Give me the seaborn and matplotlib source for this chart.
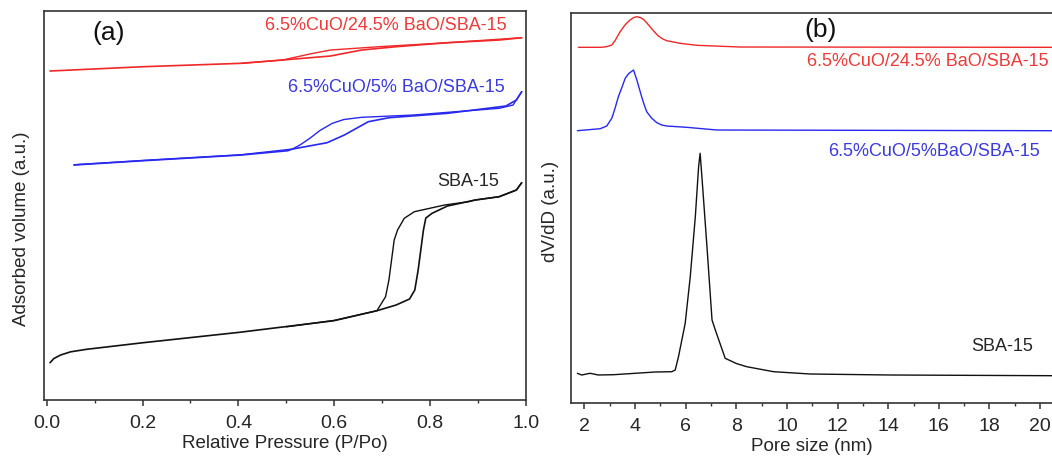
import numpy as np
import pandas as pd
import matplotlib
matplotlib.use("Agg")
import matplotlib.pyplot as plt
from matplotlib.ticker import MultipleLocator, FormatStrFormatter
import seaborn as sns

# ---------------- data: panel (a) N2 isotherms (arbitrary units) ----------------
a_x_sba_ads = [0.007, 0.015, 0.029, 0.050, 0.083, 0.201, 0.402, 0.599, 0.689, 0.729, 0.757,
               0.768, 0.775, 0.786, 0.791, 0.804, 0.836, 0.894, 0.944, 0.980, 0.991]
a_y_sba_ads = [37.3, 41.5, 45.0, 48.2, 50.7, 57.3, 67.7, 79.3, 89.3, 95.0, 101.0,
               110.0, 130.0, 170.0, 182.0, 186.7, 194.0, 200.0, 203.3, 210.0, 217.3]
a_x_sba_des = [0.991, 0.980, 0.944, 0.894, 0.880, 0.830, 0.767, 0.746, 0.732, 0.725,
               0.714, 0.707, 0.689, 0.600, 0.500]
a_y_sba_des = [217.3, 210.0, 203.3, 200.0, 198.3, 195.0, 188.3, 181.7, 170.0, 160.0,
               120.0, 103.3, 89.3, 79.6, 73.2]

a_x_cu5_ads = [0.057, 0.201, 0.406, 0.503, 0.513, 0.585, 0.621, 0.671, 0.714, 0.836,
               0.958, 0.980, 0.991]
a_y_cu5_ads = [235.0, 239.3, 245.0, 249.3, 251.0, 257.3, 265.0, 278.3, 282.3, 286.7,
               294.0, 300.0, 308.3]
a_x_cu5_des = [0.991, 0.973, 0.944, 0.765, 0.657, 0.620, 0.596, 0.570, 0.549, 0.530, 0.513,
               0.406, 0.201, 0.057]
a_y_cu5_des = [308.3, 295.0, 291.7, 285.0, 282.7, 280.5, 276.7, 269.5, 261.7, 255.5, 251.0,
               245.3, 239.6, 235.3]

a_x_cu24_ads = [0.007, 0.201, 0.406, 0.492, 0.592, 0.657, 0.729, 0.836, 0.944, 0.991]
a_y_cu24_ads = [329.0, 333.3, 336.7, 340.0, 344.0, 350.0, 353.3, 357.3, 360.0, 362.3]
a_x_cu24_des = [0.991, 0.836, 0.693, 0.592, 0.549, 0.492, 0.406]
a_y_cu24_des = [362.3, 357.3, 353.3, 350.0, 346.0, 340.0, 336.7]

# ---------------- data: panel (b) pore size distributions (arbitrary units) ----------------
b_x_cu24 = [1.76, 2.68, 2.90, 3.08, 3.20, 3.41, 3.60, 3.80, 3.95, 4.07, 4.20, 4.33, 4.45,
            4.59, 4.75, 4.92, 5.10, 5.25, 5.78, 6.44, 8.15, 20.47]
b_y_cu24 = [355.7, 355.7, 356.5, 358.0, 362.0, 371.3, 378.0, 383.0, 385.5, 386.3, 385.5,
            383.7, 380.5, 376.3, 371.5, 367.0, 364.0, 362.3, 359.7, 357.7, 356.0, 355.7]

b_x_cu5 = [1.72, 2.62, 2.88, 3.08, 3.20, 3.34, 3.50, 3.61, 3.75, 3.94, 4.07, 4.15, 4.26,
           4.35, 4.46, 4.65, 4.86, 5.05, 5.25, 6.04, 7.23, 20.47]
b_y_cu5 = [272.3, 274.3, 277.0, 284.7, 294.0, 306.3, 317.0, 324.7, 329.5, 333.0, 323.0,
           316.0, 306.3, 299.0, 291.3, 285.0, 280.3, 278.0, 277.0, 275.7, 273.0, 272.3]

b_x_sba = [1.72, 1.89, 2.22, 2.55, 3.15, 4.79, 5.45, 5.585, 5.715, 5.98, 6.18, 6.38, 6.51,
           6.57, 6.64, 6.84, 7.04, 7.17, 7.56, 8.00, 8.41, 9.47, 10.92, 14.08, 20.47]
b_y_sba = [29.7, 28.0, 29.7, 28.0, 28.3, 31.0, 31.3, 33.0, 46.3, 79.7, 126.3, 186.3, 236.3,
           249.7, 226.3, 156.3, 83.0, 73.0, 44.7, 39.5, 36.3, 31.3, 29.0, 28.0, 27.3]

labels_a = ["6.5%CuO/24.5% BaO/SBA-15", "6.5%CuO/5% BaO/SBA-15", "SBA-15"]
labels_b = ["6.5%CuO/24.5% BaO/SBA-15", "6.5%CuO/5%BaO/SBA-15", "SBA-15"]

RED = "#f02828"
BLUE = "#2828f0"
BLACK = "#111111"
RED_T = "#ee3a3a"
BLUE_T = "#3a3ae0"
TXT = "#262626"
FS = 13
TFS = 14

sns.set_theme(style="ticks")
plt.rcParams["font.family"] = ["Liberation Sans", "DejaVu Sans"]
plt.rcParams["axes.edgecolor"] = "#333333"
plt.rcParams["axes.linewidth"] = 1.2
plt.rcParams["xtick.color"] = "#333333"
plt.rcParams["xtick.labelcolor"] = TXT
plt.rcParams["axes.labelcolor"] = TXT

fig = plt.figure(figsize=(10.52, 4.59), dpi=100)
ax1 = fig.add_axes([0.0421, 0.1285, 0.5000 - 0.0421, 0.976 - 0.1285])
ax2 = fig.add_axes([0.5428, 0.122, 1.0 - 0.5428, 0.9723 - 0.122])

def line(ax, x, y, c, lw=1.0):
    df = pd.DataFrame({"x": x, "y": y})
    sns.lineplot(data=df, x="x", y="y", ax=ax, color=c, lw=lw, sort=False,
                 estimator=None, legend=False)

# panel a
line(ax1, a_x_sba_ads, a_y_sba_ads, BLACK, 1.2)
line(ax1, a_x_sba_des, a_y_sba_des, BLACK)
line(ax1, a_x_cu5_ads, a_y_cu5_ads, BLUE, 1.2)
line(ax1, a_x_cu5_des, a_y_cu5_des, BLUE)
line(ax1, a_x_cu24_ads, a_y_cu24_ads, RED, 1.2)
line(ax1, a_x_cu24_des, a_y_cu24_des, RED)

ax1.set_xlim(-0.005, 1.0)
ax1.set_ylim(0, 389)
ax1.xaxis.set_major_locator(MultipleLocator(0.2))
ax1.xaxis.set_minor_locator(MultipleLocator(0.1))
ax1.xaxis.set_major_formatter(FormatStrFormatter("%.1f"))
ax1.set_yticks([])
ax1.set_xlabel("Relative Pressure (P/Po)", fontsize=FS + 0.5, labelpad=2)
ax1.set_ylabel("Adsorbed volume (a.u.)", fontsize=FS + 0.5)
ax1.yaxis.set_label_coords(-0.03, 0.44)
ax1.text(0.130, 366.7, "(a)", fontsize=19, ha="center", va="center", color="#111111")
ax1.text(0.707, 375.0, labels_a[0], fontsize=FS, color=RED_T, ha="center", va="center")
ax1.text(0.730, 312.7, labels_a[1], fontsize=FS, color=BLUE_T, ha="center", va="center")
ax1.text(0.880, 218.3, labels_a[2], fontsize=FS, color=TXT, ha="center", va="center")

# panel b
line(ax2, b_x_cu24, b_y_cu24, RED)
line(ax2, b_x_cu5, b_y_cu5, BLUE)
line(ax2, b_x_sba, b_y_sba, BLACK)

ax2.set_xlim(1.47, 20.47)
ax2.set_ylim(0, 390.3)
ax2.xaxis.set_major_locator(MultipleLocator(2))
ax2.xaxis.set_minor_locator(MultipleLocator(1))
ax2.set_yticks([])
ax2.spines["right"].set_visible(False)
ax2.set_xlabel("Pore size (nm)", fontsize=FS + 0.5, labelpad=2)
ax2.set_ylabel("dV/dD (a.u.)", fontsize=FS + 0.5)
ax2.yaxis.set_label_coords(-0.024, 0.49)
ax2.text(11.32, 373.0, "(b)", fontsize=19, ha="center", va="center", color="#111111")
ax2.text(10.80, 341.3, labels_b[0], fontsize=FS, color=RED_T, ha="left", va="center")
ax2.text(15.80, 251.3, labels_b[1], fontsize=FS, color=BLUE_T, ha="center", va="center")
ax2.text(18.49, 56.3, labels_b[2], fontsize=FS, color=TXT, ha="center", va="center")

for ax in (ax1, ax2):
    ax.tick_params(axis="x", which="major", direction="out", length=4, width=1.1,
                   labelsize=TFS, pad=7)
    ax.tick_params(axis="x", which="minor", direction="out", length=2.5, width=1.0)

fig.savefig("out.png", dpi=100)
